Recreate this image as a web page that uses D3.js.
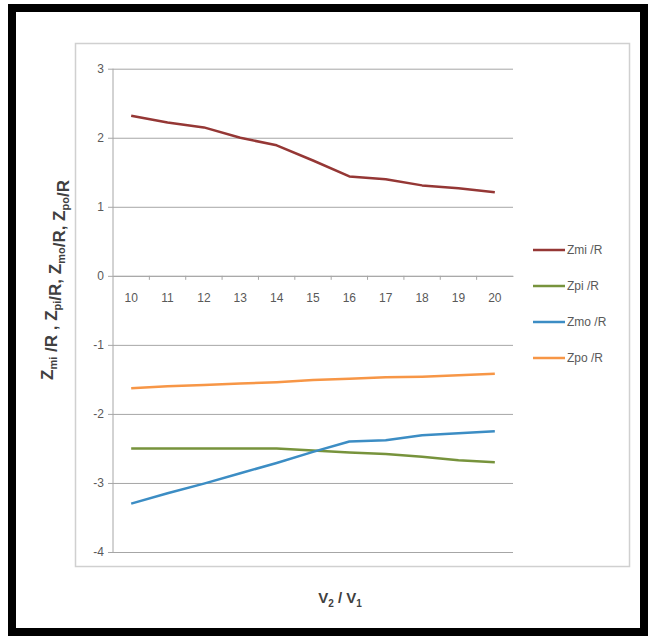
<!DOCTYPE html>
<html>
<head>
<meta charset="utf-8">
<script src="https://cdn.jsdelivr.net/npm/d3@7"></script>
<style>
  body { margin: 0; background: #fff; }
  text { font-family: "Liberation Sans", Arial, sans-serif; }
</style>
</head>
<body>
<div id="chart"></div>
<script>
const width = 652
const height = 637
const margin = {top: 68.7, bottom: 85, left: 113, right: 139}
const netWidth = width - margin.left - margin.right
const netHeight = height - margin.bottom - margin.top

// Data
const ratios = [10, 11, 12, 13, 14, 15, 16, 17, 18, 19, 20]
const zmi = [2.32, 2.22, 2.15, 2.00, 1.89, 1.67, 1.44, 1.40, 1.31, 1.27, 1.21]
const zpi = [-2.50, -2.50, -2.50, -2.50, -2.50, -2.53, -2.56, -2.58, -2.62, -2.67, -2.70]
const zmo = [-3.30, -3.15, -3.01, -2.86, -2.71, -2.55, -2.40, -2.38, -2.31, -2.28, -2.25]
const zpo = [-1.63, -1.60, -1.58, -1.56, -1.54, -1.51, -1.49, -1.47, -1.46, -1.44, -1.42]
const seriesNames = ["Zmi /R", "Zpi /R", "Zmo /R", "Zpo /R"]
const seriesValues = [zmi, zpi, zmo, zpo]
const seriesColors = ["#953735", "#77933c", "#3c8dc4", "#f79646"]
const yTicks = [-4, -3, -2, -1, 0, 1, 2, 3]

const svg = d3.select("div#chart").append("svg").attr("width", width).attr("height", height)

// Outer black frame and chart area border
svg.append("rect").attr("x", 12).attr("y", 8).attr("width", 632).attr("height", 624)
    .attr("fill", "white").attr("stroke", "black").attr("stroke-width", 8)
svg.append("rect").attr("x", 75.5).attr("y", 43.5).attr("width", 554).attr("height", 523)
    .attr("fill", "none").attr("stroke", "#d0d0d0").attr("stroke-width", 1.5)

const elementGroup = svg.append("g").attr("transform", `translate(${margin.left}, ${margin.top})`)

const x = d3.scaleBand().domain(ratios).range([0, netWidth])
const y = d3.scaleLinear().domain([-4, 3]).range([netHeight, 0])

// Gridlines + y axis
const yAxisGroup = elementGroup.append("g").attr("id", "yAxisGroup")
yAxisGroup.call(d3.axisLeft(y).tickValues(yTicks).tickSize(-netWidth).tickPadding(9).tickFormat(d => String(d)))
yAxisGroup.select(".domain").remove()
yAxisGroup.selectAll(".tick line").attr("stroke", "#a6a6a6").attr("x1", -5)
yAxisGroup.selectAll(".tick text").attr("fill", "#595959").attr("font-size", 12)
elementGroup.append("line").attr("x1", 0).attr("x2", 0).attr("y1", 0).attr("y2", netHeight)
    .attr("stroke", "#a6a6a6")

// Category axis at y = 0
const xAxisGroup = elementGroup.append("g").attr("id", "xAxisGroup").attr("transform", `translate(0, ${y(0)})`)
xAxisGroup.call(d3.axisBottom(x).tickSize(0).tickPadding(18))
xAxisGroup.select(".domain").attr("stroke", "#a6a6a6")
xAxisGroup.selectAll(".tick text").attr("fill", "#595959").attr("font-size", 12)
xAxisGroup.selectAll("line.sep")
    .data(ratios.slice(1))
    .enter().append("line").attr("class", "sep")
    .attr("x1", d => x(d)).attr("x2", d => x(d))
    .attr("y1", 0).attr("y2", 4)
    .attr("stroke", "#a6a6a6")

// Lines
const line = d3.line()
    .x((d, i) => x(ratios[i]) + x.bandwidth() / 2)
    .y(d => y(d))
elementGroup.selectAll("path.series")
    .data(seriesValues)
    .enter().append("path").attr("class", "series")
    .attr("d", d => line(d))
    .attr("fill", "none")
    .attr("stroke", (d, i) => seriesColors[i])
    .attr("stroke-width", 2.5)
    .attr("stroke-linejoin", "round")

// Legend
const legend = svg.append("g").attr("transform", "translate(533, 250)")
const items = legend.selectAll("g").data(seriesNames).enter().append("g")
    .attr("transform", (d, i) => `translate(0, ${i * 36})`)
items.append("line").attr("x1", 0).attr("x2", 32).attr("y1", 0).attr("y2", 0)
    .attr("stroke", (d, i) => seriesColors[i]).attr("stroke-width", 2.5)
items.append("text").attr("x", 34).attr("y", 4).attr("font-size", 12).attr("fill", "#595959").text(d => d)

// Axis titles
const yTitle = svg.append("text")
    .attr("transform", "translate(53, 280) rotate(-90)")
    .attr("text-anchor", "middle")
    .attr("font-size", 17).attr("font-weight", "bold").attr("fill", "#404040")
const parts = [["Z", "mi"], [" /R , Z", "pi"], ["/R, Z", "mo"], ["/R, Z", "po"], ["/R", ""]]
parts.forEach(p => {
    yTitle.append("tspan").text(p[0])
    if (p[1]) {
        yTitle.append("tspan").attr("font-size", 11).attr("dy", 4).text(p[1])
        yTitle.append("tspan").attr("dy", -4).text("")
    }
})

const xTitle = svg.append("text")
    .attr("x", 340).attr("y", 603)
    .attr("text-anchor", "middle")
    .attr("font-size", 15).attr("font-weight", "bold").attr("fill", "#404040")
xTitle.append("tspan").text("V")
xTitle.append("tspan").attr("font-size", 10).attr("dy", 4).text("2")
xTitle.append("tspan").attr("dy", -4).text(" / V")
xTitle.append("tspan").attr("font-size", 10).attr("dy", 4).text("1")
</script>
</body>
</html>
